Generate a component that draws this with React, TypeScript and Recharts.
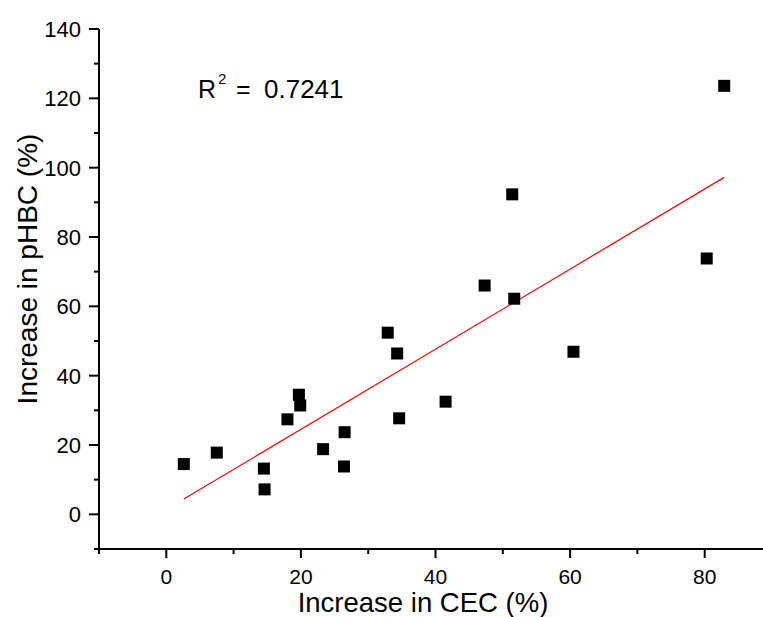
import React from 'react';
import { ScatterChart, Scatter, XAxis, YAxis } from 'recharts';

// Increase in CEC (%) vs increase in pHBC (%)
const cecIncrease = [2.6, 7.5, 14.5, 14.6, 18.0, 19.7, 19.9, 23.3, 26.5, 26.4, 32.9, 34.3, 34.6, 41.5, 47.3, 51.4, 51.7, 60.5, 80.3, 82.9];
const phbcIncrease = [14.5, 17.8, 13.2, 7.2, 27.4, 34.5, 31.4, 18.8, 23.7, 13.8, 52.4, 46.4, 27.7, 32.5, 66.0, 92.3, 62.2, 46.9, 73.8, 123.6];

// linear fit end points
const fitX = [2.6, 82.9];
const fitY = [4.4, 97.2];

const xTicks = [-10, 0, 10, 20, 30, 40, 50, 60, 70, 80, 90];
const yTicks = [-10, 0, 10, 20, 30, 40, 50, 60, 70, 80, 90, 100, 110, 120, 130, 140];

const FONT = 'Arial, "Liberation Sans", sans-serif';

const points = cecIncrease.map((x, i) => ({ x, y: phbcIncrease[i] }));
const fitLine = fitX.map((x, i) => ({ x, y: fitY[i] }));

const XTick = (props: any) => {
  const { x, y, payload } = props;
  const major = payload.value % 20 === 0;
  return (
    <g>
      <line x1={x} x2={x} y1={y} y2={y + (major ? 9 : 5)} stroke='#000' strokeWidth={2} />
      {major && (
        <text x={x} y={y + 35} textAnchor='middle' fontSize={21} fontFamily={FONT} fill='#000'>
          {payload.value}
        </text>
      )}
    </g>
  );
};

const YTick = (props: any) => {
  const { x, y, payload } = props;
  const major = payload.value % 20 === 0;
  return (
    <g>
      <line x1={x} x2={x - (major ? 10 : 5)} y1={y} y2={y} stroke='#000' strokeWidth={2} />
      {major && (
        <text x={x - 18} y={y + 8} textAnchor='end' fontSize={22} fontFamily={FONT} fill='#000'>
          {payload.value}
        </text>
      )}
    </g>
  );
};

const Square = (props: any) => (
  <rect x={props.cx - 6} y={props.cy - 6} width={12} height={12} fill='#000' />
);

const App = () => {
  return (
    <div style={{ position: 'absolute', left: 0, top: 0, width: 763, height: 617, overflow: 'hidden', background: '#fff' }}>
      <ScatterChart width={800} height={617} margin={{ top: 29, right: 28, bottom: 28, left: 39 }}>
        <XAxis
          type='number'
          dataKey='x'
          domain={[-10, 90]}
          ticks={xTicks}
          interval={0}
          height={40}
          tickSize={0}
          tickMargin={0}
          tickLine={false}
          tick={<XTick />}
          axisLine={{ stroke: '#000', strokeWidth: 2 }}
          allowDataOverflow
        />
        <YAxis
          type='number'
          dataKey='y'
          domain={[-10, 140]}
          ticks={yTicks}
          interval={0}
          width={60}
          tickSize={0}
          tickMargin={0}
          tickLine={false}
          tick={<YTick />}
          axisLine={{ stroke: '#000', strokeWidth: 2 }}
          allowDataOverflow
        />
        <Scatter
          data={fitLine}
          line={{ stroke: '#ff0000', strokeWidth: 1.2 }}
          shape={() => <g />}
          isAnimationActive={false}
        />
        <Scatter data={points} shape={<Square />} isAnimationActive={false} />
        <text x={423} y={612} textAnchor='middle' fontSize={27.5} fontFamily={FONT} fill='#000'>
          Increase in CEC (%)
        </text>
        <text
          x={37}
          y={269}
          textAnchor='middle'
          fontSize={28}
          fontFamily={FONT}
          fill='#000'
          transform='rotate(-90, 37, 269)'
        >
          Increase in pHBC (%)
        </text>
        <text x={198} y={98} fontSize={25} fontFamily={FONT} fill='#000'>R</text>
        <text x={218} y={84} fontSize={15} fontFamily={FONT} fill='#000'>2</text>
        <text x={236} y={98} fontSize={25} fontFamily={FONT} fill='#000'>=</text>
        <text x={264} y={98} fontSize={26} fontFamily={FONT} fill='#000'>0.7241</text>
      </ScatterChart>
    </div>
  );
};

export default App;
